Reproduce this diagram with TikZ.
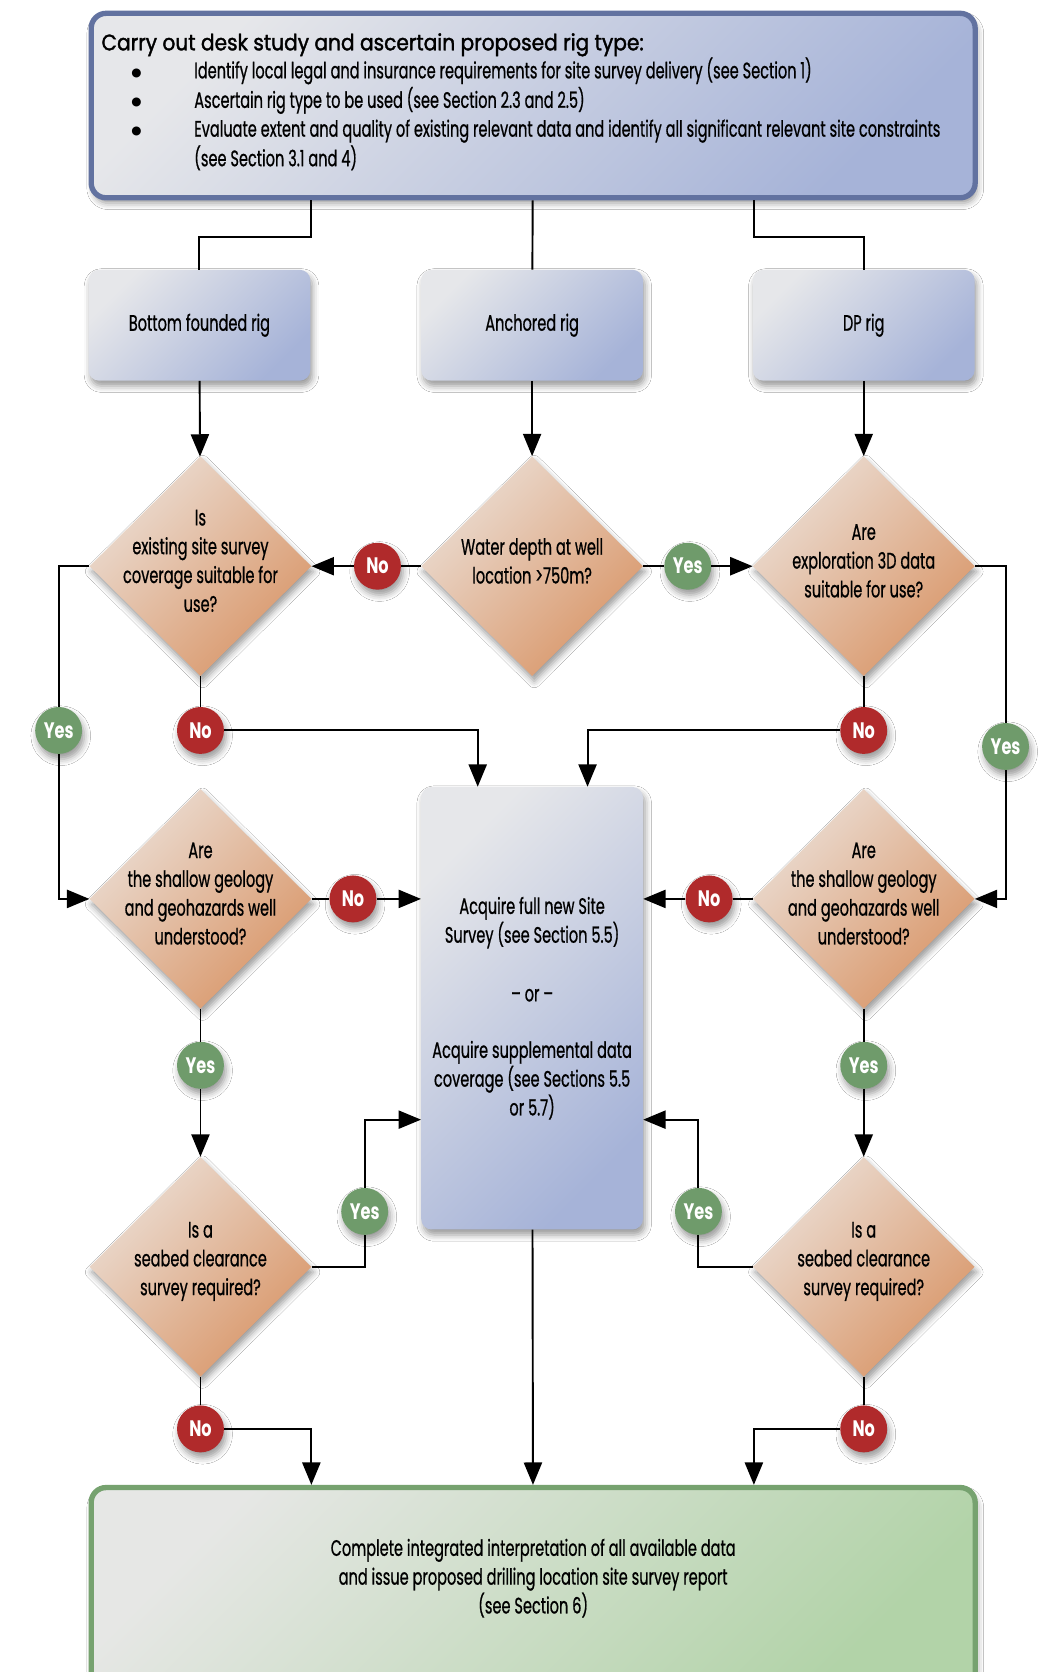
\documentclass[tikz,border=0pt]{standalone}
\usepackage{fontspec}
\setmainfont[FakeStretch=0.65, FakeBold=0.7]{Poppins}
\newfontfamily\headfont[FakeStretch=0.9, FakeBold=1.6]{Poppins}
\newfontfamily\dotfont[FakeStretch=0.72]{Poppins}
\newfontfamily\symfont{DejaVu Sans}
\usetikzlibrary{shapes.geometric,arrows.meta,shadows.blur}

\definecolor{deskedge}{HTML}{6272A0}
\definecolor{bluelight}{HTML}{E6E7EA}
\definecolor{bluedark}{HTML}{A6B3D8}
\definecolor{orangelight}{HTML}{EBDDD3}
\definecolor{orangedark}{HTML}{D9976A}
\definecolor{noRed}{HTML}{B02A2B}
\definecolor{yesGreen}{HTML}{6F9B6B}
\definecolor{endedge}{HTML}{76A26F}
\definecolor{greenlight}{HTML}{E6E7E5}
\definecolor{greendark}{HTML}{B2D3A8}

\newcommand{\bigdot}{\raisebox{2pt}{\symfont\fontsize{11}{11}\selectfont ●}}

\tikzset{
  softshadow/.style={blur shadow={shadow xshift=2pt, shadow yshift=-5pt, shadow blur radius=6pt}},
  bodytext/.style={font=\fontsize{21}{27}\selectfont, align=center},
  blueshade/.style={top color=bluelight, bottom color=bluedark, shading angle=45},
  deskbox/.style={rectangle, rounded corners=14pt, draw=deskedge, line width=5pt,
    blueshade, softshadow, minimum width=829pt, minimum height=173pt},
  rigbox/.style={rectangle, rounded corners=10pt, blueshade, softshadow,
    minimum width=208pt, minimum height=104pt, bodytext},
  actionbox/.style={rectangle, rounded corners=10pt, blueshade, softshadow,
    minimum width=208pt, minimum height=415pt, bodytext},
  endbox/.style={rectangle, rounded corners=14pt, draw=endedge, line width=5pt,
    top color=greenlight, bottom color=greendark, shading angle=45, softshadow,
    minimum width=829pt, minimum height=190pt},
  decision/.style={diamond, inner sep=0pt, minimum width=208pt, minimum height=206pt,
    top color=orangelight, bottom color=orangedark, shading angle=45, softshadow},
  qtext/.style={bodytext, yshift=5pt},
  dot/.style={circle, minimum size=44pt, inner sep=0pt, text=white, softshadow,
    font=\dotfont\bfseries\fontsize{21}{21}\selectfont},
  yes/.style={dot, fill=yesGreen},
  no/.style={dot, fill=noRed},
  link/.style={line width=1.8pt},
  flow/.style={link, -{Triangle[length=21pt,width=17pt]}},
}

\begin{document}
\begin{tikzpicture}[x=1pt, y=-1pt]
  \path[use as bounding box, fill=white] (0,0) rectangle (980,1568);

  % desk study
  \node[deskbox] (desk) at (500,99) {};
  \node[anchor=north west, inner sep=0pt, align=left] (desktext) at ([xshift=12pt, yshift=-21pt]desk.north west)
    {{\headfont\fontsize{21}{27}\selectfont Carry out desk study and ascertain proposed rig type:}\\[0pt]
     \fontsize{21}{27}\selectfont
     \begin{tabular}{@{\hspace{28pt}}p{59pt}@{}l@{}}
       \bigdot & Identify local legal and insurance requirements for site survey delivery (see Section 1)\\
       \bigdot & Ascertain rig type to be used (see Section 2.3 and 2.5)\\
       \bigdot & Evaluate extent and quality of existing relevant data and identify all significant relevant site constraints\\
               & (see Section 3.1 and 4)
     \end{tabular}};

  % rig types
  \node[rigbox] (rigbf) at (187,305) {Bottom founded rig};
  \node[rigbox] (rigan) at (499,305) {Anchored rig};
  \node[rigbox] (rigdp) at (810,305) {DP rig};

  % decisions
  \node[decision, label={[qtext]center:Is\\existing site survey\\coverage suitable for\\use?}] (qcov) at (188,531) {};
  \node[decision, label={[qtext]center:Water depth at well\\location >750m?}] (qdepth) at (499,531) {};
  \node[decision, label={[qtext]center:Are\\exploration 3D data\\suitable for use?}] (q3d) at (810,531) {};
  \node[decision, label={[qtext]center:Are\\the shallow geology\\and geohazards well\\understood?}] (qgeoL) at (188,843) {};
  \node[decision, label={[qtext]center:Are\\the shallow geology\\and geohazards well\\understood?}] (qgeoR) at (810,843) {};
  \node[decision, label={[qtext]center:Is a\\seabed clearance\\survey required?}] (qclrL) at (188,1188) {};
  \node[decision, label={[qtext]center:Is a\\seabed clearance\\survey required?}] (qclrR) at (810,1188) {};

  % survey and report
  \node[actionbox] (acquire) at (499,945.5)
    {Acquire full new Site\\Survey (see Section 5.5)\\[28pt]-- or --\\[26pt]Acquire supplemental data\\coverage (see Sections 5.5\\or 5.7)};
  \node[endbox, label={[bodytext, yshift=10pt]center:Complete integrated interpretation of all available data\\and issue proposed drilling location site survey report\\(see Section 6)}] (report) at (500,1490) {};

  % answers
  \node[no] (noA) at (354,531) {No};
  \node[yes] (yesA) at (645,531) {Yes};
  \node[yes] (yesL1) at (55,685) {Yes};
  \node[no] (noL1) at (188,685) {No};
  \node[no] (noR1) at (810,685) {No};
  \node[yes] (yesR1) at (943,700) {Yes};
  \node[no] (noL2) at (331,843) {No};
  \node[no] (noR2) at (665,843) {No};
  \node[yes] (yesL2) at (188,999) {Yes};
  \node[yes] (yesR2) at (810,999) {Yes};
  \node[yes] (yesL3) at (342,1136) {Yes};
  \node[yes] (yesR3) at (655,1136) {Yes};
  \node[no] (noL3) at (188,1340) {No};
  \node[no] (noR3) at (810,1340) {No};

  % connectors
  \draw[link] ([xshift=-208pt]desk.south) -- ++(0,34) -| (rigbf);
  \draw[link] (desk) -- (rigan);
  \draw[link] ([xshift=207pt]desk.south) -- ++(0,34) -| (rigdp);
  \draw[flow] (rigbf) -- (qcov);
  \draw[flow] (rigan) -- (qdepth);
  \draw[flow] (rigdp) -- (q3d);

  \draw[link] (qdepth) -- (noA);
  \draw[flow] (noA) -- (qcov);
  \draw[link] (qdepth) -- (yesA);
  \draw[flow] (yesA) -- (q3d);

  \draw[link] (qcov.west) -| (yesL1);
  \draw[flow] (yesL1) |- (qgeoL.west);
  \draw[link] (qcov) -- (noL1);
  \draw[flow] (noL1) -| ([xshift=-51pt]acquire.north);
  \draw[link] (q3d) -- (noR1);
  \draw[flow] (noR1) -| ([xshift=52pt]acquire.north);
  \draw[link] (q3d.east) -| (yesR1);
  \draw[flow] (yesR1) |- (qgeoR.east);

  \draw[link] (qgeoL) -- (noL2);
  \draw[flow] (noL2) -- (noL2 -| acquire.west);
  \draw[link] (qgeoR) -- (noR2);
  \draw[flow] (noR2) -- (noR2 -| acquire.east);
  \draw[link] (qgeoL) -- (yesL2);
  \draw[flow] (yesL2) -- (qclrL);
  \draw[link] (qgeoR) -- (yesR2);
  \draw[flow] (yesR2) -- (qclrR);

  \draw[link] (qclrL.east) -| (yesL3);
  \draw[flow] (yesL3) |- ([yshift=-104.5pt]acquire.west);
  \draw[link] (qclrR.west) -| (yesR3);
  \draw[flow] (yesR3) |- ([yshift=-104.5pt]acquire.east);

  \draw[link] (qclrL) -- (noL3);
  \draw[flow] (noL3) -| ([xshift=-208pt]report.north);
  \draw[flow] (acquire) -- (report);
  \draw[link] (qclrR) -- (noR3);
  \draw[flow] (noR3) -| ([xshift=207pt]report.north);
\end{tikzpicture}
\end{document}
